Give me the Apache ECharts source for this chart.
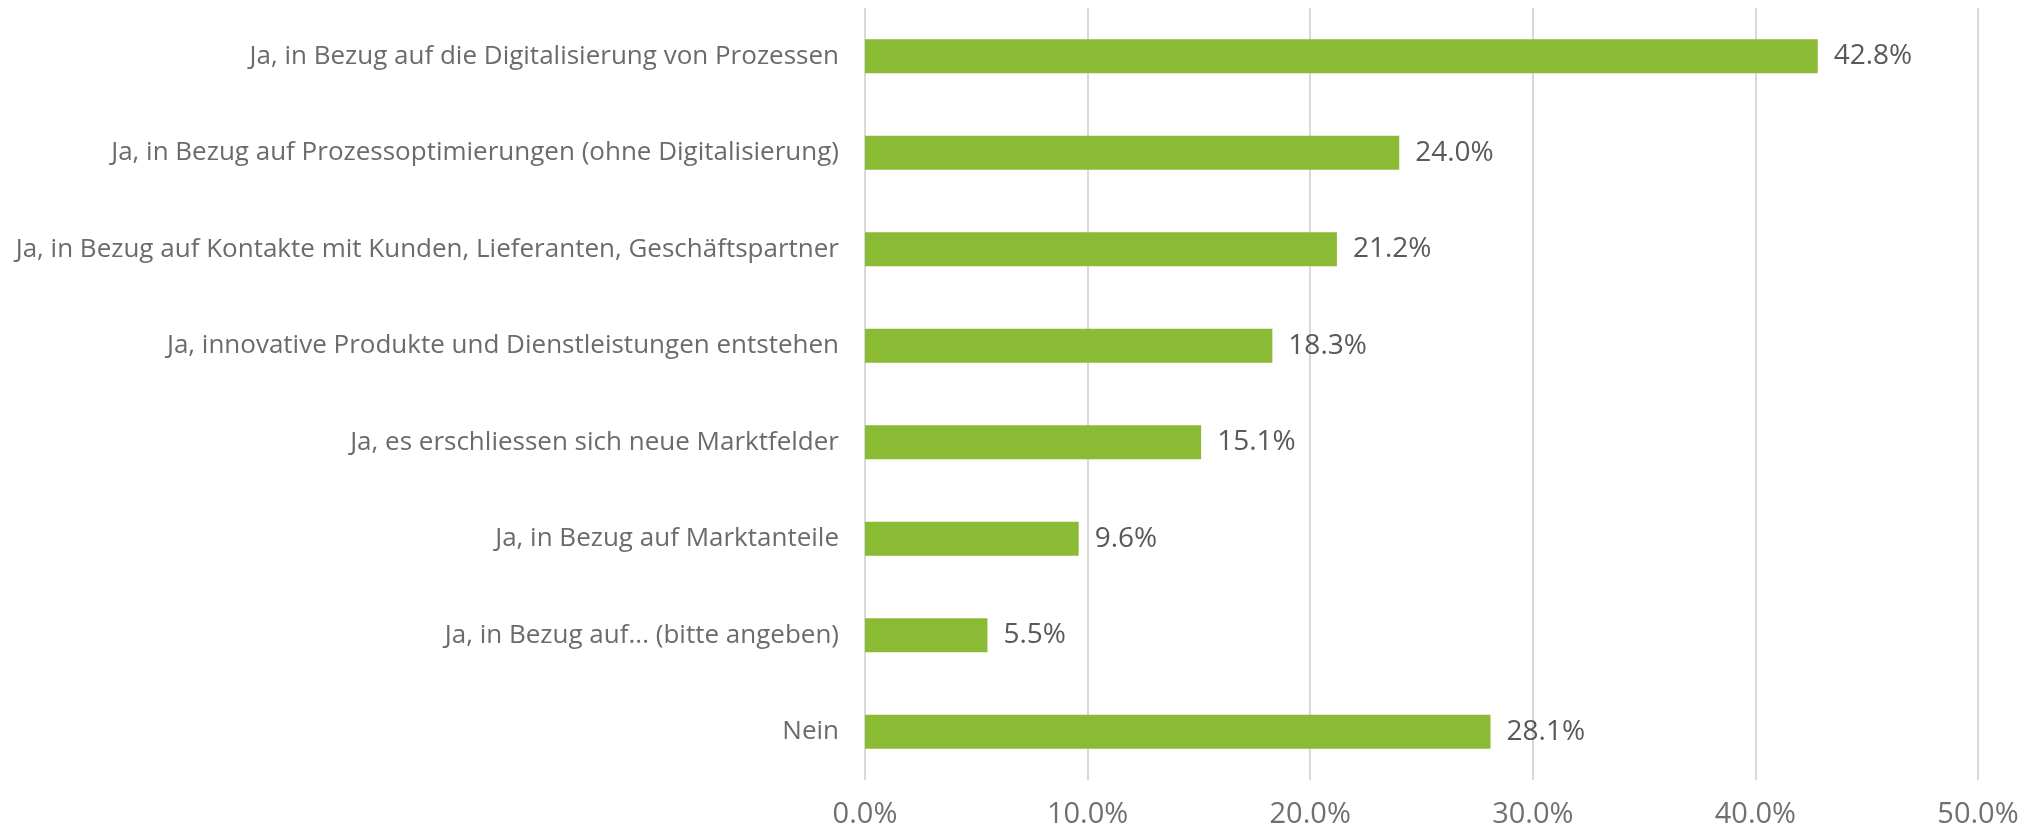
<!DOCTYPE html>
<html>
<head>
<meta charset="utf-8">
<script src="https://cdn.jsdelivr.net/npm/echarts@6/dist/echarts.min.js"></script>
<style>
  html, body { margin: 0; padding: 0; background: #fff; }
  #chart { width: 2031px; height: 829px; }
</style>
</head>
<body>
<div id="chart"></div>
<script>
// Antworten (von oben nach unten)
var categories = [
    'Ja, in Bezug auf die Digitalisierung von Prozessen',
    'Ja, in Bezug auf Prozessoptimierungen (ohne Digitalisierung)',
    'Ja, in Bezug auf Kontakte mit Kunden, Lieferanten, Geschäftspartner',
    'Ja, innovative Produkte und Dienstleistungen entstehen',
    'Ja, es erschliessen sich neue Marktfelder',
    'Ja, in Bezug auf Marktanteile',
    'Ja, in Bezug auf... (bitte angeben)',
    'Nein'
];
var values = [42.8, 24.0, 21.2, 18.3, 15.1, 9.6, 5.5, 28.1];
var axisMin = 0;
var axisMax = 50;
var axisStep = 10;

document.addEventListener('DOMContentLoaded', function () {
    var chartDom = document.getElementById('chart');
    var myChart = echarts.init(chartDom);
    var font = '"Open Sans", "Noto Sans", sans-serif';
    var option = {
        animation: false,
        grid: {
            left: 865,
            right: 53,
            top: 8,
            bottom: 47,
            containLabel: false
        },
        xAxis: {
            type: 'value',
            min: axisMin,
            max: axisMax,
            interval: axisStep,
            axisLine: { show: false },
            axisTick: { show: false },
            splitLine: {
                show: true,
                lineStyle: { color: '#d9d9d9', width: 2 }
            },
            axisLabel: {
                color: '#707070',
                fontFamily: font,
                fontSize: 29,
                margin: 20,
                formatter: function (v) { return v.toFixed(1) + '%'; }
            }
        },
        yAxis: {
            type: 'category',
            data: categories,
            inverse: true,
            axisLine: { show: false },
            axisTick: { show: false },
            splitLine: { show: false },
            axisLabel: {
                color: '#6b6b6b',
                fontFamily: font,
                fontSize: 26,
                margin: 26
            }
        },
        series: [
            {
                type: 'bar',
                data: values,
                barWidth: 34,
                itemStyle: { color: '#8bba35' },
                label: {
                    show: true,
                    position: 'right',
                    distance: 16,
                    color: '#595959',
                    fontFamily: font,
                    fontSize: 28,
                    formatter: function (p) { return p.value.toFixed(1) + '%'; }
                }
            }
        ]
    };
    myChart.setOption(option);
    window.addEventListener('resize', function () {
        myChart.resize();
    });
});
</script>
</body>
</html>
